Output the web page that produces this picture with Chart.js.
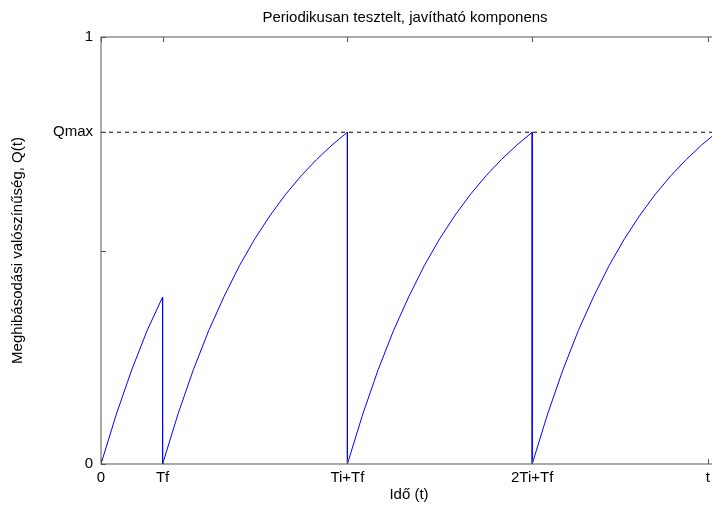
<!DOCTYPE html>
<html>
<head>
<meta charset="utf-8">
<script src="https://cdn.jsdelivr.net/npm/chart.js@4.4.1/dist/chart.umd.min.js"></script>
<style>
  html, body { margin: 0; padding: 0; background: #fff; overflow: hidden; }
</style>
</head>
<body>
<!-- canvas is a bit wider than the window: the right edge of the axes sits just off-screen, as in the reference -->
<canvas id="chart" width="720" height="505"></canvas>
<script>
// Periodically tested, repairable component: Q(t) saw-tooth curve.
// Curve values.

const TITLE = "Periodikusan tesztelt, javítható komponens";
const X_TITLE = "Idő (t)";
const Y_TITLE = "Meghibásodási valószínűség, Q(t)";

const Q_MAX = 0.777;
const X_MAX = 10;

const xTickValues = [0, 1, 4, 7, 9.85];
const xTickLabels = ["0", "Tf", "Ti+Tf", "2Ti+Tf", "t"];
const yTickValues = [0, 0.5, 0.777, 1];
const yTickLabels = ["0", "", "Qmax", "1"];

// time axis points (each test drops Q back to 0 at the same t)
const timePoints = [
  0, 0.25, 0.5, 0.75, 1,
  1, 1.25, 1.5, 1.75, 2, 2.25, 2.5, 2.75, 3, 3.25, 3.5, 3.75, 4,
  4, 4.25, 4.5, 4.75, 5, 5.25, 5.5, 5.75, 6, 6.25, 6.5, 6.75, 7,
  7, 7.25, 7.5, 7.75, 8, 8.25, 8.5, 8.75, 9, 9.25, 9.5, 9.75, 10,
];
const qValues = [
  0, 0.117, 0.221, 0.313, 0.391,
  0, 0.117, 0.221, 0.313, 0.393, 0.465, 0.528, 0.583, 0.632, 0.675, 0.713, 0.747, 0.777,
  0, 0.117, 0.221, 0.313, 0.393, 0.465, 0.528, 0.583, 0.632, 0.675, 0.713, 0.747, 0.777,
  0, 0.117, 0.221, 0.313, 0.393, 0.465, 0.528, 0.583, 0.632, 0.675, 0.713, 0.747, 0.777,
];

const FONT = { family: "'Liberation Sans', Arial, sans-serif", size: 15 };
const AXIS_COLOR = "#555";
const TICK_LEN = 5;

// Box round the axes, inward ticks on all four sides, and the title.
const framePlugin = {
  id: "frame",
  afterDraw(chart) {
    const { ctx, chartArea: a, scales } = chart;
    ctx.save();
    ctx.strokeStyle = AXIS_COLOR;
    ctx.lineWidth = 1;
    ctx.strokeRect(a.left, a.top, a.right - a.left, a.bottom - a.top);
    ctx.beginPath();
    xTickValues.forEach((v) => {
      const px = Math.round(scales.x.getPixelForValue(v)) + 0.5;
      ctx.moveTo(px, a.bottom); ctx.lineTo(px, a.bottom - TICK_LEN);
      ctx.moveTo(px, a.top); ctx.lineTo(px, a.top + TICK_LEN);
    });
    yTickValues.forEach((v) => {
      const py = Math.round(scales.y.getPixelForValue(v)) + 0.5;
      ctx.moveTo(a.left, py); ctx.lineTo(a.left + TICK_LEN, py);
      ctx.moveTo(a.right, py); ctx.lineTo(a.right - TICK_LEN, py);
    });
    ctx.stroke();

    ctx.fillStyle = "#000";
    ctx.font = `${FONT.size}px ${FONT.family}`;
    ctx.textAlign = "center";
    ctx.textBaseline = "middle";
    ctx.fillText(TITLE, (a.left + a.right) / 2 - 4, 18);
    ctx.restore();
  },
};

new Chart(document.getElementById("chart"), {
  type: "line",
  data: {
    datasets: [
      {
        data: [{ x: 0, y: Q_MAX }, { x: X_MAX, y: Q_MAX }],
        borderColor: "#000",
        borderWidth: 1,
        borderDash: [4, 4],
        pointRadius: 0,
      },
      {
        data: timePoints.map((t, i) => ({ x: t, y: qValues[i] })),
        borderColor: "#0000ff",
        borderWidth: 1,
        pointRadius: 0,
        tension: 0,
      },
    ],
  },
  options: {
    responsive: false,
    animation: false,
    devicePixelRatio: 1,
    layout: { padding: { top: 37, left: 0, right: 3, bottom: 0 } },
    plugins: { legend: { display: false }, tooltip: { enabled: false } },
    scales: {
      x: {
        type: "linear",
        min: 0,
        max: X_MAX,
        afterBuildTicks: (s) => { s.ticks = xTickValues.map((v) => ({ value: v })); },
        afterFit: (s) => { s.height = 41; },
        ticks: {
          callback: (v, i) => xTickLabels[i],
          autoSkip: false,
          maxRotation: 0,
          padding: 5,
          color: "#000",
          font: FONT,
        },
        grid: { display: false, drawTicks: false },
        border: { display: false },
        title: { display: true, text: X_TITLE, color: "#000", font: FONT, padding: { top: 2, bottom: 1 } },
      },
      y: {
        type: "linear",
        min: 0,
        max: 1,
        afterBuildTicks: (s) => { s.ticks = yTickValues.map((v) => ({ value: v })); },
        afterFit: (s) => { s.width = 101; },
        ticks: {
          callback: (v, i) => yTickLabels[i],
          autoSkip: false,
          padding: 8,
          color: "#000",
          font: FONT,
        },
        grid: { display: false, drawTicks: false },
        border: { display: false },
        title: { display: true, text: Y_TITLE, color: "#000", font: FONT, padding: { top: 9, bottom: 0 } },
      },
    },
  },
  plugins: [framePlugin],
});
</script>
</body>
</html>
